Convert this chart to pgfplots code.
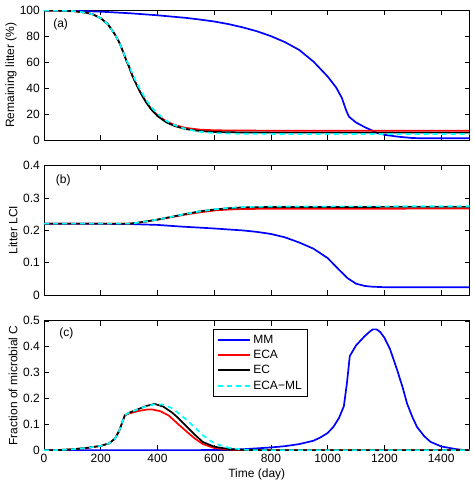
\documentclass[border=0pt]{standalone}
\usepackage{fontspec}
\setmainfont{Liberation Sans}
\usepackage{pgfplots}
\pgfplotsset{compat=1.18}
\definecolor{mmblue}{rgb}{0,0,1}
\definecolor{ecared}{rgb}{1,0,0}
\definecolor{mlcyan}{rgb}{0,1,1}
\tikzset{
  sMM/.style={color=mmblue, line width=1.7pt},
  sECA/.style={color=ecared, line width=1.7pt},
  sEC/.style={color=black, line width=1.7pt},
  sML/.style={color=mlcyan, line width=1.7pt, dash pattern=on 5pt off 4pt},
}
\pgfplotsset{
  panel/.style={
    scale only axis, width=425.5pt, height=129.5pt, anchor=south west,
    xmin=0, xmax=1500, xtick={0,200,...,1400},
    tick align=inside, major tick length=5pt,
    axis line style={line width=0.8pt},
    every tick/.style={black, line width=0.6pt},
    /pgf/number format/assume math mode=true,
    /pgf/number format/1000 sep={},
    tick label style={font=\fontsize{12}{14}\selectfont},
    label style={font=\fontsize{12}{14}\selectfont},
    clip=true,
  },
}
\begin{document}
\fontsize{12}{14}\selectfont
\begin{tikzpicture}
\path[use as bounding box] (0pt,0pt) rectangle (473pt,481pt);
% ---------------- (a)
\begin{axis}[panel, at={(44pt,341pt)}, ymin=0, ymax=100, ytick={0,20,...,100},
  xticklabels={},
  ylabel={Remaining litter (\%)},
  ylabel style={at={(axis description cs:0,0.5)}, anchor=center, yshift=33pt},
  ]
\addplot[sMM] coordinates {(0,100) (100,99.8) (200,99.1) (300,97.9) (400,96.3) (500,94.3) (550,93) (600,91.5) (650,89.5) (700,87) (750,84) (800,80.2) (850,75.5) (900,69.5) (950,60.5) (1000,49) (1030,40.5) (1050,32.5) (1065,23) (1075,18) (1100,13.5) (1130,10) (1150,8) (1175,5.5) (1200,4) (1250,2.5) (1300,1.5) (1350,1.3) (1500,1.3)};
\addplot[sECA] coordinates {(0,100) (50,99.9) (100,99.6) (150,98.3) (175,96.8) (200,94) (225,89.5) (250,81.5) (265,75.5) (280,67.5) (290,61.5) (300,56.5) (310,50.5) (320,45.5) (340,36.8) (360,29.3) (380,23.5) (400,19.2) (430,14.5) (460,11.6) (500,9.3) (550,8) (600,7.5) (700,7.3) (800,7.2) (1500,7.2)};
\addplot[sEC] coordinates {(0,100) (50,99.9) (100,99.6) (150,98.3) (175,96.8) (200,94) (225,89.5) (250,81.5) (265,75.5) (280,67.5) (290,61.5) (300,56.5) (310,50.5) (320,45.5) (340,36.5) (360,29) (380,23) (400,18.5) (430,13.8) (460,10.8) (500,8.4) (550,6.9) (600,6.2) (700,5.8) (800,5.7) (1500,5.7)};
\addplot[sML] coordinates {(0,100) (50,99.9) (100,99.6) (150,98.3) (175,96.8) (200,94) (225,89.5) (250,81.5) (265,75.5) (280,67.5) (290,62) (300,57.5) (310,52) (320,47) (340,38.5) (360,31) (380,25) (400,20.5) (430,15) (460,11.5) (500,8.5) (550,6.3) (600,5.3) (700,4.8) (800,4.7) (1500,4.7)};
\node[anchor=west] at (rel axis cs:0.012,0.894) {(a)};
\end{axis}
% ---------------- (b)
\begin{axis}[panel, at={(44pt,186pt)}, ymin=0, ymax=0.4, ytick={0,0.1,...,0.4},
  yticklabels={0,0.1,0.2,0.3,0.4},
  xticklabels={},
  ylabel={Litter LCI},
  ylabel style={at={(axis description cs:0,0.5)}, anchor=center, yshift=31pt},
  ]
\addplot[sMM] coordinates {(0,0.22) (200,0.2198) (300,0.2192) (400,0.2165) (480,0.2115) (600,0.2055) (657,0.202) (700,0.1995) (750,0.195) (800,0.1885) (850,0.178) (900,0.162) (950,0.143) (1000,0.114) (1040,0.078) (1070,0.052) (1100,0.035) (1130,0.028) (1150,0.026) (1200,0.024) (1500,0.024)};
\addplot[sECA] coordinates {(0,0.2205) (300,0.2205) (320,0.2215) (350,0.2255) (400,0.2325) (450,0.2405) (500,0.2485) (550,0.2555) (600,0.261) (650,0.264) (700,0.2655) (800,0.2665) (1500,0.2668)};
\addplot[sEC] coordinates {(0,0.2205) (300,0.2205) (320,0.222) (350,0.226) (400,0.233) (450,0.2415) (500,0.2505) (550,0.2585) (600,0.264) (650,0.268) (700,0.2705) (800,0.272) (1500,0.2722)};
\addplot[sML] coordinates {(0,0.2205) (300,0.2205) (320,0.222) (350,0.226) (400,0.233) (450,0.2415) (500,0.2505) (550,0.2585) (600,0.2645) (650,0.269) (700,0.2715) (800,0.2735) (1500,0.274)};
\node[anchor=west] at (rel axis cs:0.018,0.885) {(b)};
\end{axis}
% ---------------- (c)
\begin{axis}[panel, at={(44pt,30.7pt)}, ymin=0, ymax=0.5, ytick={0,0.1,...,0.5},
  yticklabels={0,0.1,0.2,0.3,0.4,0.5},
  xlabel={Time (day)},
  xlabel style={at={(axis description cs:0.5,0)}, anchor=center, yshift=-24pt},
  ylabel={Fraction of microbial C},
  ylabel style={at={(axis description cs:0,0.5)}, anchor=center, yshift=31pt},
  legend style={at={(0.397,0.934)}, anchor=north west, draw=black, line width=0.8pt,
    fill=white, font=\fontsize{12}{14}\selectfont, inner xsep=4pt, inner ysep=3pt,
    row sep=1.2pt, cells={anchor=west}},
  legend image code/.code={\draw[#1] (0pt,0pt) -- (32pt,0pt);},
  legend entries={MM,ECA,EC,ECA−ML},
  ]
\addlegendimage{color=mmblue, line width=2pt}
\addlegendimage{color=ecared, line width=2pt}
\addlegendimage{color=black, line width=2pt}
\addlegendimage{color=mlcyan, line width=2pt, dash pattern=on 5pt off 4pt}
\addplot[sMM, forget plot] coordinates {(0,0) (500,0.0005) (600,0.001) (700,0.004) (800,0.011) (850,0.016) (900,0.024) (950,0.037) (975,0.05) (1000,0.067) (1020,0.09) (1040,0.125) (1057,0.17) (1068,0.26) (1078,0.364) (1100,0.405) (1130,0.44) (1150,0.46) (1160,0.467) (1172,0.467) (1185,0.457) (1200,0.435) (1220,0.39) (1245,0.31) (1265,0.24) (1280,0.18) (1300,0.125) (1315,0.09) (1340,0.055) (1362,0.033) (1400,0.015) (1450,0.005) (1480,0.001) (1500,0)};
\addplot[sECA, forget plot] coordinates {(0,0) (50,0.001) (100,0.004) (150,0.009) (200,0.017) (230,0.027) (250,0.045) (265,0.075) (275,0.105) (285,0.135) (300,0.142) (330,0.151) (360,0.157) (380,0.158) (410,0.151) (440,0.134) (470,0.104) (500,0.075) (530,0.047) (560,0.024) (600,0.009) (650,0.003) (700,0.001) (800,0) (1500,0)};
\addplot[sEC, forget plot] coordinates {(0,0) (50,0.001) (100,0.004) (150,0.009) (200,0.017) (230,0.027) (250,0.045) (265,0.075) (275,0.105) (285,0.135) (300,0.145) (330,0.158) (360,0.171) (390,0.179) (420,0.169) (450,0.147) (470,0.128) (500,0.095) (530,0.062) (560,0.032) (600,0.014) (650,0.005) (700,0.002) (800,0) (1500,0)};
\addplot[sML, forget plot] coordinates {(0,0) (50,0.001) (100,0.004) (150,0.009) (200,0.017) (230,0.027) (250,0.045) (265,0.075) (275,0.105) (285,0.135) (300,0.145) (330,0.158) (360,0.17) (390,0.177) (420,0.177) (450,0.163) (470,0.147) (500,0.12) (530,0.09) (560,0.058) (600,0.027) (650,0.01) (700,0.003) (750,0) (1500,0)};
\node[anchor=west] at (rel axis cs:0.026,0.9) {(c)};
\end{axis}
\end{tikzpicture}
\end{document}
